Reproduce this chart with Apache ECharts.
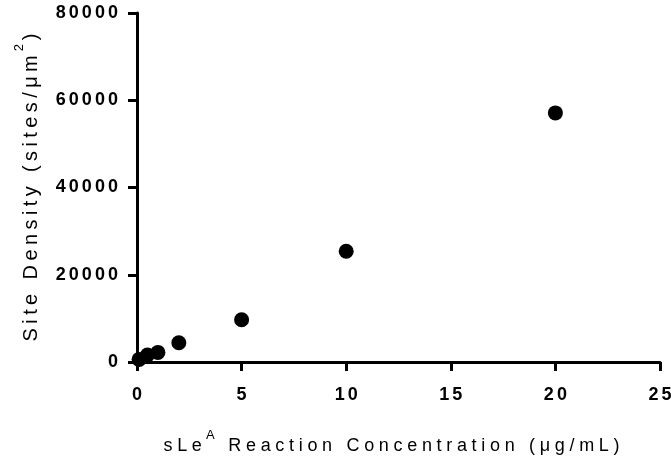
<!DOCTYPE html>
<html>
<head>
<meta charset="utf-8">
<script src="https://cdn.jsdelivr.net/npm/echarts@6/dist/echarts.min.js"></script>
<style>
  html, body { margin: 0; padding: 0; background: #ffffff; }
  #chart { width: 671px; height: 457px; }
</style>
</head>
<body>
<div id="chart"></div>
<script>
// sLeA reaction concentration (µg/mL) and resulting site density (sites/µm²)
const concentration = [0.1, 0.5, 1, 2, 5, 10, 20];
const siteDensity   = [600, 1600, 2200, 4400, 9700, 25400, 57100];

const xTicks = { min: 0, max: 25, interval: 5 };
const yTicks = { min: 0, max: 80000, interval: 20000 };

const FONT = 'Liberation Sans, Arial, sans-serif';

// Prism-style tracked lettering: bold tick labels are tracked tighter than the axis titles.
function trackingFor(font) {
  const m = /(\d+(?:\.\d+)?)px/.exec(font || '');
  const size = m ? parseFloat(m[1]) : 12;
  if (/bold|[6-9]00/.test(font)) return 0.17 * size;
  return (size >= 20 ? 0.22 : 0.26) * size;
}

const measureCtx = document.createElement('canvas').getContext('2d');
echarts.setPlatformAPI({
  measureText(text, font) {
    measureCtx.font = font;
    const m = measureCtx.measureText(text);
    return {
      width: m.width + trackingFor(font) * String(text).length,
      actualBoundingBoxAscent: m.actualBoundingBoxAscent,
      actualBoundingBoxDescent: m.actualBoundingBoxDescent,
      actualBoundingBoxLeft: m.actualBoundingBoxLeft,
      actualBoundingBoxRight: m.actualBoundingBoxRight,
      fontBoundingBoxAscent: m.fontBoundingBoxAscent,
      fontBoundingBoxDescent: m.fontBoundingBoxDescent
    };
  }
});

const nativeFillText = CanvasRenderingContext2D.prototype.fillText;
CanvasRenderingContext2D.prototype.fillText = function (text, x, y, maxWidth) {
  const ls = trackingFor(this.font);
  if ('letterSpacing' in this) this.letterSpacing = ls + 'px';
  let dx = 0;
  if (this.textAlign === 'center') dx = ls / 2;
  else if (this.textAlign === 'right' || this.textAlign === 'end') dx = ls;
  return maxWidth === undefined
    ? nativeFillText.call(this, text, x + dx, y)
    : nativeFillText.call(this, text, x + dx, y, maxWidth);
};

const chart = echarts.init(document.getElementById('chart'), null, { renderer: 'canvas' });

const axisLineStyle = { color: '#000000', width: 3 };

chart.setOption({
  animation: false,
  backgroundColor: '#ffffff',
  grid: { left: 137, right: 11, top: 13, bottom: 95, containLabel: false, outerBoundsMode: 'none' },
  xAxis: {
    type: 'value',
    min: xTicks.min, max: xTicks.max, interval: xTicks.interval,
    name: '{t|sLe}{s|A}{t| Reaction Concentration (\u03bcg/mL)}',
    nameLocation: 'middle',
    nameMoveOverlap: false,
    nameGap: 65,
    nameTextStyle: {
      padding: [0, 14, 0, 0],
      rich: {
        t: { fontFamily: FONT, fontSize: 18, color: '#000', lineHeight: 30, verticalAlign: 'bottom' },
        s: { fontFamily: FONT, fontSize: 13, color: '#000', lineHeight: 14, verticalAlign: 'top' }
      }
    },
    axisLine: { onZero: false, lineStyle: axisLineStyle },
    axisTick: { show: true, length: 9, lineStyle: axisLineStyle },
    axisLabel: { fontFamily: FONT, fontSize: 18, fontWeight: 'bold', color: '#000', margin: 23 },
    splitLine: { show: false }
  },
  yAxis: {
    type: 'value',
    min: yTicks.min, max: yTicks.max, interval: yTicks.interval,
    name: '{t|Site Density (sites/\u03bcm}{s|2}{t|)}',
    nameLocation: 'middle',
    nameMoveOverlap: false,
    nameRotate: 90,
    nameGap: 93,
    nameTextStyle: {
      rich: {
        t: { fontFamily: FONT, fontSize: 20, color: '#000', lineHeight: 33, verticalAlign: 'bottom' },
        s: { fontFamily: FONT, fontSize: 13, color: '#000', lineHeight: 14, verticalAlign: 'top' }
      }
    },
    axisLine: { onZero: false, lineStyle: axisLineStyle },
    axisTick: { show: true, length: 9, lineStyle: axisLineStyle },
    axisLabel: {
      fontFamily: FONT, fontSize: 18, fontWeight: 'bold', color: '#000', margin: 19,
      padding: [6, 0, 0, 0],
      formatter: v => String(v)
    },
    splitLine: { show: false }
  },
  series: [{
    type: 'scatter',
    data: concentration.map((c, i) => [c, siteDensity[i]]),
    symbol: 'circle',
    symbolSize: 15,
    itemStyle: { color: '#000000', opacity: 1 },
    clip: false
  }]
});
</script>
</body>
</html>
